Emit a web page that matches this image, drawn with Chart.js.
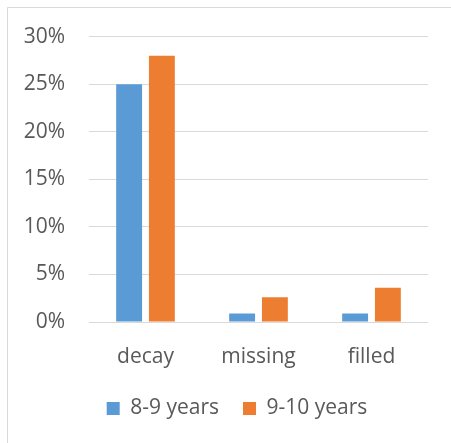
<!DOCTYPE html>
<html>
<head>
<meta charset="utf-8">
<script src="https://cdn.jsdelivr.net/npm/chart.js@4/dist/chart.umd.min.js"></script>
<style>
  html, body { margin: 0; padding: 0; background: #fff; }
  #wrap { width: 451px; height: 443px; position: relative; }
</style>
</head>
<body>
<div id="wrap"><canvas id="c" width="451" height="443"></canvas></div>
<script>
// Share of children by dental condition, per age group
const categories = ['decay', 'missing', 'filled'];
const ages8to9 = [25, 0.9, 0.9];
const ages9to10 = [28, 2.6, 3.6];
const seriesNames = ['8-9 years', '9-10 years'];
const yTicks = [0, 5, 10, 15, 20, 25, 30];

const TEXT = '#595959';
const GRID = '#D9D9D9';
const FONT = { family: 'Open Sans', size: 21 };

// Frame line on the top and left edges
const framePlugin = {
  id: 'frame',
  beforeDraw(chart) {
    const ctx = chart.ctx;
    ctx.save();
    ctx.fillStyle = '#fff';
    ctx.fillRect(0, 0, chart.width, chart.height);
    ctx.strokeStyle = GRID;
    ctx.lineWidth = 1;
    ctx.beginPath();
    ctx.moveTo(7.5, chart.height);
    ctx.lineTo(7.5, 7.5);
    ctx.lineTo(chart.width, 7.5);
    ctx.stroke();
    ctx.restore();
  }
};

// Centre the legend under the whole canvas width rather than the padded box
const legendShift = {
  id: 'legendShift',
  afterLayout(chart) {
    const lg = chart.legend;
    if (lg) { lg.left += 23; lg.right += 23; }
  }
};

new Chart(document.getElementById('c'), {
  type: 'bar',
  data: {
    labels: categories,
    datasets: [
      { label: seriesNames[0], data: ages8to9, backgroundColor: '#5B9BD5',
        categoryPercentage: 0.58, barPercentage: 0.79 },
      { label: seriesNames[1], data: ages9to10, backgroundColor: '#ED7D31',
        categoryPercentage: 0.58, barPercentage: 0.79 }
    ]
  },
  options: {
    responsive: false,
    animation: false,
    layout: { padding: { top: 36, right: 23, bottom: 14, left: 0 } },
    plugins: {
      tooltip: { enabled: false },
      legend: {
        position: 'bottom',
        labels: {
          color: TEXT, font: FONT, boxWidth: 13, boxHeight: 13, padding: 24
        }
      }
    },
    scales: {
      x: {
        grid: { display: false, drawTicks: false },
        border: { display: false },
        ticks: { color: TEXT, font: FONT, padding: 22 },
        afterFit(scale) { scale.height = 52; }
      },
      y: {
        min: 0, max: 30,
        afterBuildTicks(scale) { scale.ticks = yTicks.map(v => ({ value: v })); },
        grid: { color: GRID, lineWidth: 1, drawTicks: false },
        border: { display: false },
        ticks: { color: TEXT, font: FONT, padding: 24, callback: v => v + '%' },
        afterFit(scale) { scale.width = 89; }
      }
    }
  },
  plugins: [framePlugin, legendShift]
});
</script>
</body>
</html>
